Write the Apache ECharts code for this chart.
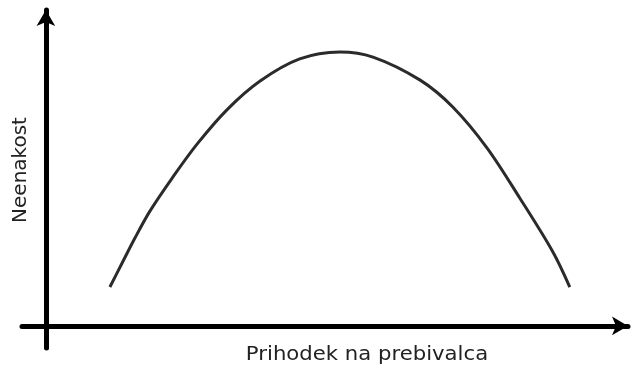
<!DOCTYPE html>
<html>
<head>
<meta charset="utf-8">
<script src="https://cdn.jsdelivr.net/npm/echarts@6/dist/echarts.min.js"></script>
<style>
  html, body { margin: 0; padding: 0; background: #fff; }
  #chart { width: 631px; height: 367px; }
</style>
</head>
<body>
<div id="chart"></div>
<script>
// dohodek (x) in neenakost (y), odčitano s slike
const incomeValues = [11.0, 13.1, 15.3, 17.9, 21.7, 26.0, 31.1, 36.8, 43.6, 50.5, 56.2, 64.3, 69.9, 75.8, 81.4, 87.1, 90.0];
const inequalityValues = [12.3, 19.9, 27.8, 36.4, 46.8, 57.6, 68.4, 77.5, 84.5, 86.7, 85.1, 77.8, 69.3, 56.3, 40.5, 23.4, 12.3];
const xAxisTitle = 'Prihodek na prebivalca';
const yAxisTitle = 'Neenakost';

const curveData = incomeValues.map((x, i) => [x, inequalityValues[i]]);

const myChart = echarts.init(document.getElementById('chart'));

const axisCommon = {
  type: 'value',
  axisLine: {
    show: true,
    onZero: true,
    symbol: ['none', 'arrow'],
    symbolSize: [14, 16],
    lineStyle: { color: '#000', width: 5 }
  },
  axisTick: { show: false },
  axisLabel: { show: false },
  splitLine: { show: false }
};

const option = {
  animation: false,
  backgroundColor: '#fff',
  grid: { left: 22, right: 3, top: 10, bottom: 19 },
  xAxis: Object.assign({}, axisCommon, { min: -4.1, max: 100 }),
  yAxis: Object.assign({}, axisCommon, { min: -7, max: 100 }),
  series: [
    {
      type: 'line',
      data: curveData,
      smooth: 0.33,
      showSymbol: false,
      lineStyle: { color: '#2b2b2b', width: 3 }
    }
  ],
  graphic: [
    {
      type: 'text',
      x: 367,
      y: 355,
      scaleX: 1.06,
      style: {
        text: xAxisTitle,
        fontSize: 20,
        fontFamily: 'DejaVu Sans',
        fill: '#222',
        align: 'center',
        verticalAlign: 'middle'
      }
    },
    {
      type: 'text',
      x: 21,
      y: 170,
      rotation: Math.PI / 2,
      style: {
        text: yAxisTitle,
        fontSize: 20,
        fontFamily: 'DejaVu Sans',
        fill: '#222',
        align: 'center',
        verticalAlign: 'middle'
      }
    }
  ]
};

myChart.setOption(option);
</script>
</body>
</html>
